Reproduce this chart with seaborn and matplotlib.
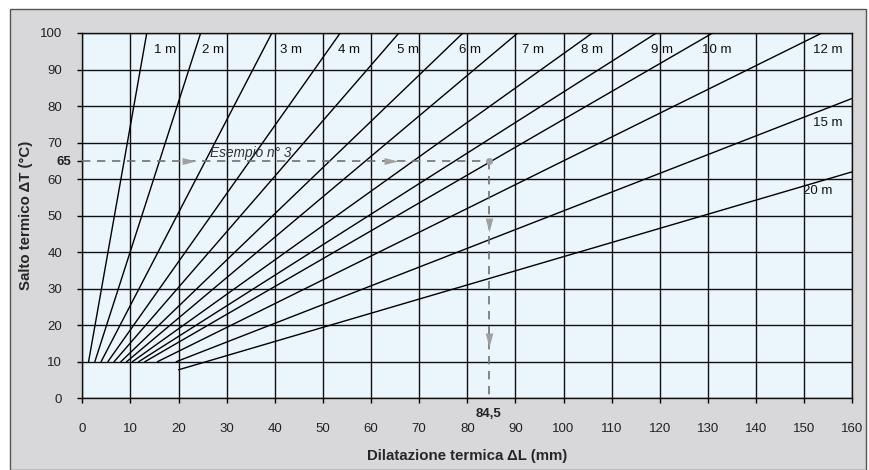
import pandas as pd
import seaborn as sns
import matplotlib.pyplot as plt
from matplotlib.patches import Rectangle

# Pipe lengths and line end points
lengths = ["1 m", "2 m", "3 m", "4 m", "5 m", "6 m", "7 m", "8 m", "9 m", "10 m", "12 m", "15 m", "20 m"]
x_start = [1.3, 2.6, 3.9, 5.3, 6.6, 8.0, 9.2, 10.4, 11.7, 13.0, 15.6, 19.5, 20.0]
y_start = [10, 10, 10, 10, 10, 10, 10, 10, 10, 10, 10, 10, 7.8]
x_end = [13.4, 24.6, 39.4, 53.6, 65.8, 79.1, 90.5, 106.0, 119.3, 131.0, 153.7, 160.0, 160.0]
y_end = [100, 100, 100, 100, 100, 100, 100, 100, 100, 100, 100, 82.1, 62.0]

# Label positions for each line
label_x = [14.8, 24.8, 41.0, 53.2, 65.3, 78.3, 91.4, 103.7, 118.2, 128.8, 151.9, 151.9, 149.8]
label_y = [94.5, 94.5, 94.5, 94.5, 94.5, 94.5, 94.5, 94.5, 94.5, 94.5, 94.5, 74.5, 55.8]

# Example n. 3
ex_dt = 65
ex_dl = 84.5

rows = []
for i, name in enumerate(lengths):
    rows.append({"length": name, "dL": x_start[i], "dT": y_start[i]})
    rows.append({"length": name, "dL": x_end[i], "dT": y_end[i]})
df = pd.DataFrame(rows)

sns.set_theme(style="ticks")
plt.rcParams["font.family"] = ["Liberation Sans", "DejaVu Sans"]

fig = plt.figure(figsize=(8.7, 4.7), dpi=100)
fig.patch.set_facecolor("white")
fig.patches.append(Rectangle((10 / 870, 0), 856 / 870, 461 / 470, transform=fig.transFigure,
                             facecolor="#d8d8da", edgecolor="#555555", linewidth=1, zorder=-10))

ax = fig.add_axes([0.0946, 0.1526, 0.885, 0.7772])
ax.set_facecolor("#eaf5fc")

sns.lineplot(data=df, x="dL", y="dT", units="length", estimator=None, sort=False,
             color="black", linewidth=1.0, ax=ax, zorder=3)

for i, name in enumerate(lengths):
    ax.text(label_x[i], label_y[i], name, fontsize=9.5, color="#111111", zorder=4)

# example dashed path
arrow_r = [(-1, -0.5), (1, 0), (-1, 0.5), (-1, -0.5)]
arrow_d = [(-0.55, 1), (0.55, 1), (0, -1), (-0.55, 1)]
ax.plot([0, ex_dl], [ex_dt, ex_dt], color="#707070", lw=1.2, ls=(0, (5, 4)), zorder=5)
ax.plot([ex_dl, ex_dl], [ex_dt, 0], color="#707070", lw=1.2, ls=(0, (5, 4)), zorder=5)
ax.plot([22.2, 64.2], [ex_dt, ex_dt], ls="none", marker=arrow_r, ms=10, mew=0,
        color="#a0a0a0", zorder=6)
ax.plot([ex_dl, ex_dl], [47.5, 16], ls="none", marker=arrow_d, ms=10, mew=0,
        color="#a0a0a0", zorder=6)
ax.plot([ex_dl], [ex_dt], ls="none", marker="o", ms=5, mew=0, color="#a0a0a0", zorder=6)
ax.text(26.6, 66.0, "Esempio n° 3", fontsize=9.8, style="italic", color="#333333", zorder=6)

ax.set_xlim(0, 160)
ax.set_ylim(0, 100)
ax.set_xticks(range(0, 161, 10))
ax.set_yticks(range(0, 101, 10))
ax.set_yticks([ex_dt], minor=True)
ax.set_yticklabels(["65"], minor=True, fontweight="bold")
ax.tick_params(axis="both", which="both", direction="out", width=1, color="black",
               labelsize=9.5, labelcolor="#222222")
ax.tick_params(axis="x", length=3.4, pad=14.5)
ax.tick_params(axis="y", which="major", length=3.6, pad=11)
ax.tick_params(axis="y", which="minor", length=3.6, pad=4)
ax.grid(True, which="major", color="#111111", linewidth=1.0, zorder=1)
ax.set_axisbelow(True)
for s in ax.spines.values():
    s.set_color("#111111")
    s.set_linewidth(1.0)

ax.text(ex_dl, -2.6, "84,5", fontsize=9.5, fontweight="bold", ha="center", va="top",
        color="#222222", clip_on=False)

ax.set_xlabel("Dilatazione termica ΔL (mm)", fontsize=10.8, fontweight="bold", labelpad=10)
ax.set_ylabel("Salto termico ΔT (°C)", fontsize=10.8, fontweight="bold", labelpad=5)

fig.savefig("out.png", dpi=100, facecolor=fig.get_facecolor())
